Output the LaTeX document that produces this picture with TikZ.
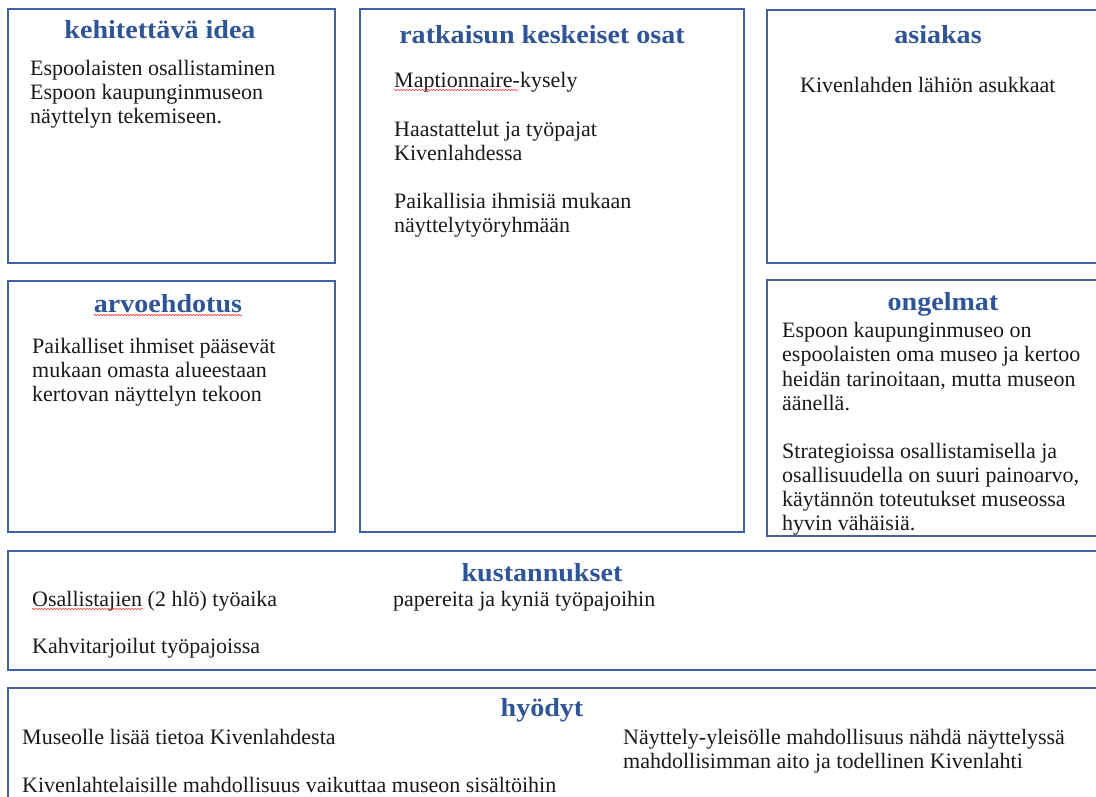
\documentclass[tikz,border=0pt]{standalone}
\usepackage{fontspec}
\setmainfont{Liberation Serif}
\newfontfamily\titlefont[FakeStretch=1.08]{Liberation Serif}
\usetikzlibrary{decorations.pathmorphing}
\definecolor{bordc}{RGB}{63,98,165}
\definecolor{titc}{RGB}{47,85,151}
\begin{document}
\begin{tikzpicture}[x=1pt,y=-1pt,
  box/.style={draw=bordc, line width=2pt, inner sep=0pt},
  ttl/.style={anchor=base, text=titc, font=\titlefont\fontsize{26}{30}\selectfont\bfseries, inner sep=0pt},
  txt/.style={anchor=base west, font=\fontsize{22}{24}\selectfont, inner sep=0pt, text=black!90},
  squig/.style={draw=red!75, line width=0.6pt, decorate, decoration={snake, amplitude=0.7pt, segment length=3pt}}]
\useasboundingbox (0,0) rectangle (1096,796);
% boxes
\node[box, minimum width=327pt, minimum height=254pt] (idea) at (171.5,136) {};
\node[box, minimum width=384pt, minimum height=523pt] (ratk) at (552,270.5) {};
\node[box, minimum width=343pt, minimum height=253pt] (asia) at (938.5,136.5) {};
\node[box, minimum width=327pt, minimum height=251pt] (arvo) at (171.5,406.5) {};
\node[box, minimum width=343pt, minimum height=256pt] (ong) at (938.5,408) {};
\node[box, minimum width=1102pt, minimum height=119pt] (kust) at (559,610.5) {};
\node[box, minimum width=1102pt, minimum height=122pt] (hyod) at (559,749) {};
% titles
\node[ttl] (t1) at (160,38) {kehitettävä idea};
\node[ttl] (t2) at (542,43) {ratkaisun keskeiset osat};
\node[ttl] (t3) at (938,43) {asiakas};
\node[ttl] (t4) at (168,312) {arvoehdotus};
\node[ttl] (t5) at (943,310) {ongelmat};
\node[ttl] (t6) at (542,581) {kustannukset};
\node[ttl] (t7) at (542,716) {hyödyt};
% box 1
\node[txt] (i1) at (30,75) {Espoolaisten osallistaminen};
\node[txt] (i2) at (30,99) {Espoon kaupunginmuseon};
\node[txt] (i3) at (30,123) {näyttelyn tekemiseen.};
% box 2
\node[txt] (r1) at (394,87) {Maptionnaire-kysely};
\node[txt] (r2) at (394,136) {Haastattelut ja työpajat};
\node[txt] (r3) at (394,160) {Kivenlahdessa};
\node[txt] (r4) at (394,208) {Paikallisia ihmisiä mukaan};
\node[txt] (r5) at (394,232) {näyttelytyöryhmään};
% box 3
\node[txt] (a1) at (800,92) {Kivenlahden lähiön asukkaat};
% box 4
\node[txt] (v1) at (32,353) {Paikalliset ihmiset pääsevät};
\node[txt] (v2) at (32,377) {mukaan omasta alueestaan};
\node[txt] (v3) at (32,401) {kertovan näyttelyn tekoon};
% box 5
\node[txt] (o1) at (782,337) {Espoon kaupunginmuseo on};
\node[txt] (o2) at (782,361) {espoolaisten oma museo ja kertoo};
\node[txt] (o3) at (782,386) {heidän tarinoitaan, mutta museon};
\node[txt] (o4) at (782,410) {äänellä.};
\node[txt] (o5) at (782,458) {Strategioissa osallistamisella ja};
\node[txt] (o6) at (782,482) {osallisuudella on suuri painoarvo,};
\node[txt] (o7) at (782,506) {käytännön toteutukset museossa};
\node[txt] (o8) at (782,530) {hyvin vähäisiä.};
% box 6
\node[txt] (k1) at (32,606) {Osallistajien (2 hlö) työaika};
\node[txt] (k2) at (393,606) {papereita ja kyniä työpajoihin};
\node[txt] (k3) at (32,653) {Kahvitarjoilut työpajoissa};
% box 7
\node[txt] (h1) at (22,744) {Museolle lisää tietoa Kivenlahdesta};
\node[txt] (h2) at (22,792) {Kivenlahtelaisille mahdollisuus vaikuttaa museon sisältöihin};
\node[txt] (h3) at (623,744) {Näyttely-yleisölle mahdollisuus nähdä näyttelyssä};
\node[txt] (h4) at (623,768) {mahdollisimman aito ja todellinen Kivenlahti};
% spell-check underlines
\draw[squig] ([yshift=-3pt]r1.base west) -- ++(124,0);
\draw[squig] ([yshift=-3pt]t4.base west) -- ([yshift=-3pt]t4.base east);
\draw[squig] ([yshift=-3pt]k1.base west) -- ++(111,0);
\end{tikzpicture}
\end{document}
